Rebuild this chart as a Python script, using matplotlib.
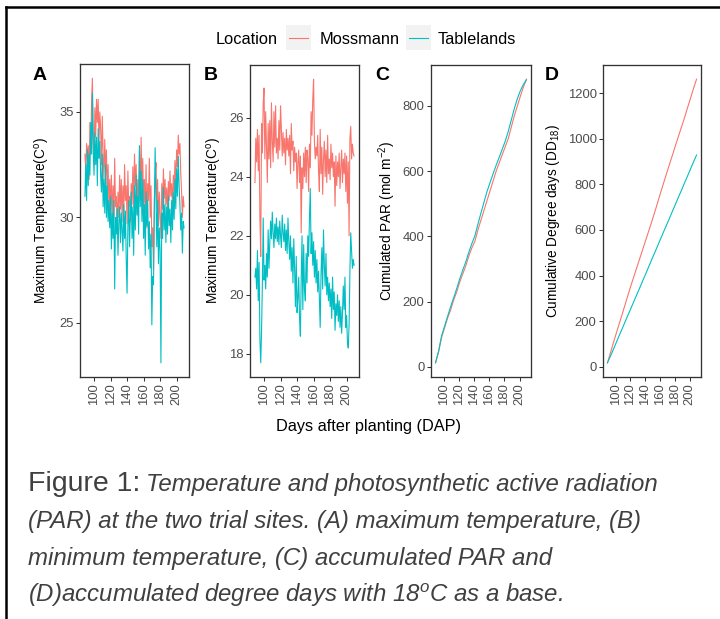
import numpy as np
import matplotlib.pyplot as plt
from matplotlib import font_manager
from matplotlib.lines import Line2D
from matplotlib.patches import Rectangle
from matplotlib.ticker import MultipleLocator

plt.rcParams['font.family'] = ['Liberation Sans', 'DejaVu Sans']
plt.rcParams['mathtext.fontset'] = 'custom'
plt.rcParams['mathtext.rm'] = 'Liberation Sans'
plt.rcParams['mathtext.it'] = 'Liberation Sans:italic'
plt.rcParams['mathtext.bf'] = 'Liberation Sans:bold'
plt.rcParams['mathtext.default'] = 'regular'

# days after planting
dap = np.arange(89, 210)
cum_dap = np.arange(89, 210, 4)

locations = ['Mossmann', 'Tablelands']
colors = ['#F8766D', '#00BFC4']

# (A) maximum temperature
mossmann_max = [
    33.0, 32.2, 33.5, 32.8, 33.4, 31.8, 34.5, 33.0, 35.5, 36.6,
    34.0, 32.5, 35.2, 33.8, 35.6, 34.5, 35.6, 33.5, 35.0, 34.2,
    32.5, 34.8, 33.0, 31.8, 33.7, 32.0, 33.2, 31.2, 32.5, 30.5,
    31.8, 30.2, 32.0, 29.8, 31.5, 30.0, 32.8, 30.5, 31.0, 29.6,
    31.2, 30.0, 32.0, 30.4, 31.8, 29.8, 31.5, 30.2, 32.5, 30.8,
    31.5, 29.7, 32.2, 30.5, 31.0, 29.8, 31.6, 30.6, 32.4, 30.5,
    33.0, 31.5, 32.5, 30.2, 31.8, 30.8, 33.2, 31.0, 33.8, 31.5,
    32.8, 30.5, 31.8, 30.2, 32.5, 29.5, 31.6, 30.8, 32.8, 30.0,
    31.5, 28.6, 29.5, 27.5, 30.8, 31.9, 32.6, 30.4, 31.8, 29.6,
    31.2, 30.0, 29.0, 31.6, 30.4, 32.3, 30.9, 31.8, 30.6, 31.4,
    30.2, 31.7, 30.8, 32.2, 31.0, 31.6, 30.5, 32.0, 31.2, 32.7,
    31.4, 33.2, 32.4, 33.9, 33.0, 33.5, 32.1, 31.2, 30.0, 31.0,
    30.5]
tablelands_max = [
    31.0, 32.5, 30.8, 33.2, 31.5, 33.0, 32.0, 34.5, 33.0, 35.9,
    33.2, 32.0, 34.0, 32.5, 33.8, 31.5, 34.2, 32.8, 33.6, 32.0,
    31.2, 33.0, 30.5, 31.8, 30.2, 32.5, 30.0, 31.5, 29.8, 30.8,
    29.5, 31.0, 28.5, 30.2, 29.0, 30.8, 26.6, 30.0, 29.2, 30.4,
    28.2, 29.8, 30.5, 28.8, 30.2, 29.4, 28.4, 30.6, 29.0, 30.3,
    28.0, 26.4, 29.6, 30.8, 28.6, 30.2, 31.2, 29.0, 30.5, 28.2,
    31.5, 29.4, 32.0, 30.1, 31.0, 29.2, 33.4, 30.5, 32.2, 29.8,
    31.8, 29.0, 30.6, 28.2, 31.2, 29.6, 30.8, 28.5, 29.8, 27.6,
    29.2, 24.9, 27.2, 26.8, 30.2, 33.3, 31.0, 28.6, 30.8, 27.8,
    29.5, 28.4, 23.1, 30.2, 29.0, 31.4, 29.4, 30.6, 28.8, 30.5,
    29.2, 31.0, 29.6, 30.4, 28.8, 30.8, 29.4, 31.2, 29.9, 31.8,
    30.4, 32.3, 31.0, 32.9, 31.5, 30.6, 29.4, 30.2, 28.3, 29.8,
    29.5]

# (B) minimum temperature
mossmann_min = [
    23.8, 25.3, 24.5, 25.6, 24.2, 25.4, 22.6, 21.3, 25.8, 24.8,
    26.5, 27.0, 24.6, 26.2, 25.0, 23.8, 25.8, 24.6, 25.9, 24.3,
    26.5, 25.2, 24.5, 26.2, 25.0, 26.4, 24.8, 25.3, 24.6, 25.9,
    24.9, 26.4, 25.6, 24.7, 25.5, 24.8, 25.3, 24.4, 25.6, 24.9,
    25.3, 24.7, 25.4, 24.1, 25.8, 24.9, 25.2, 24.2, 25.0, 24.5,
    24.8, 23.6, 24.5, 24.9, 23.8, 24.7, 22.1, 24.3, 23.6, 24.8,
    24.0, 25.0, 23.8, 24.9, 24.6, 23.5, 25.1, 24.3, 26.2, 25.4,
    26.6, 27.3, 25.2, 24.6, 25.0, 24.7, 25.4, 24.2, 23.5, 25.6,
    24.1, 25.0, 23.4, 24.6, 25.2, 24.0, 24.9, 23.8, 25.4, 24.1,
    24.6, 23.9, 25.1, 24.3, 24.8, 24.0, 24.5, 23.0, 24.7, 23.7,
    24.5, 24.0, 24.8, 23.6, 24.3, 24.9, 23.8, 24.6, 24.1, 24.8,
    23.5, 24.7, 23.1, 24.5, 22.0, 25.3, 25.7, 24.6, 25.1, 24.8,
    24.7]
tablelands_min = [
    20.6, 20.9, 20.2, 21.5, 19.8, 21.1, 18.5, 17.7, 18.8, 20.4,
    22.6, 20.5, 21.0, 20.2, 21.4, 20.6, 22.2, 20.9, 21.8, 22.5,
    21.9, 22.8, 22.1, 21.6, 22.4, 21.9, 22.6, 21.8, 22.3, 21.7,
    22.5, 22.0, 21.6, 22.7, 22.1, 21.8, 22.4, 21.5, 22.2, 21.4,
    22.6, 21.8, 21.2, 22.0, 20.8, 21.6, 20.4, 21.9, 20.9, 19.6,
    21.3, 19.4, 19.9, 20.6, 19.2, 18.6, 20.5, 22.0, 19.5, 21.7,
    20.2, 19.8, 21.4, 20.4, 22.0, 21.3, 22.6, 23.6, 21.4, 22.1,
    21.0, 21.8, 20.6, 21.5, 20.4, 21.2, 20.1, 20.8, 19.9, 18.9,
    20.7, 21.6, 20.2, 22.2, 21.0, 20.3, 21.4, 20.0, 20.6, 19.8,
    20.4, 19.6, 20.2, 19.2, 20.6, 19.5, 20.1, 18.8, 19.7, 19.3,
    20.0, 19.1, 19.8, 18.9, 19.6, 18.7, 19.4, 20.3, 19.5, 20.6,
    18.9, 19.3, 18.4, 18.2, 19.0, 20.8, 22.1, 21.5, 20.9, 21.2,
    21.0]

# (C) cumulated PAR, every 4 days
mossmann_par = [12, 45, 90, 120, 150, 175, 205, 230, 260, 285, 310, 340, 365, 385, 420, 450,
                480, 510, 540, 570, 600, 625, 650, 675, 700, 735, 770, 800, 830, 858, 882]
tablelands_par = [12, 48, 95, 125, 155, 185, 212, 240, 270, 297, 322, 352, 378, 402, 438, 472,
                  505, 538, 565, 592, 618, 642, 667, 692, 722, 757, 792, 822, 847, 866, 880]

# (D) cumulative degree days (base 18), every 4 days
mossmann_dd = [17, 60, 105, 148, 190, 232, 275, 318, 360, 400, 440, 480, 520, 560, 600, 640,
               682, 725, 768, 810, 852, 893, 933, 975, 1015, 1055, 1095, 1138, 1180, 1222, 1262]
tablelands_dd = [17, 46, 76, 107, 138, 168, 199, 229, 259, 290, 320, 350, 381, 411, 442, 473,
                 503, 534, 564, 595, 625, 655, 686, 716, 747, 777, 808, 838, 869, 899, 929]

W, H = 720, 619
fig = plt.figure(figsize=(W / 100, H / 100), dpi=100)


def fx(x):
    return x / W


def fy(y):
    return 1 - y / H


def add_panel(l, t, r, b):
    return fig.add_axes([fx(l), fy(b), fx(r - l), (b - t) / H])


panels = [
    (add_panel(80, 64, 189, 377), dap, [mossmann_max, tablelands_max], 5, 'A', 33, 'Maximum Temperature(C$^o$)', 43),
    (add_panel(250, 65, 359, 377), dap, [mossmann_min, tablelands_min], 2, 'B', 204, 'Maximum Temperature(C$^o$)', 214),
    (add_panel(431, 65, 531, 377), cum_dap, [mossmann_par, tablelands_par], 200, 'C', 375, 'Cumulated PAR (mol m$^{-2}$)', 387),
    (add_panel(603, 65, 701, 377), cum_dap, [mossmann_dd, tablelands_dd], 200, 'D', 545, 'Cumulative Degree days (DD$_{18}$)', 553),
]

for ax, x, series, ystep, letter, lx, ylab, yl_x in panels:
    for vals, c in zip(series, colors):
        ax.plot(x, vals, color=c, lw=0.8)
    ax.xaxis.set_major_locator(MultipleLocator(20))
    ax.yaxis.set_major_locator(MultipleLocator(ystep))
    for s in ax.spines.values():
        s.set_color('#333333')
        s.set_linewidth(0.95)
    ax.tick_params(length=2.6, width=0.75, color='#333333', labelcolor='#4D4D4D',
                   labelsize=9.4, pad=2)
    ax.tick_params(axis='x', labelrotation=90)
    fig.text(fx(lx), fy(75), letter, fontsize=14, fontweight='bold', va='center', ha='left')
    fig.text(fx(yl_x), fy(221), ylab, fontsize=9.8, rotation=90, ha='center', va='center')

fig.text(fx(368), fy(427), 'Days after planting (DAP)', fontsize=11.7, ha='center', va='center')

# legend
fig.text(fx(216), fy(40), 'Location', fontsize=11.8, va='center')
for kx, tx, name, c in [(286, 320, locations[0], colors[0]), (406, 438, locations[1], colors[1])]:
    fig.add_artist(Rectangle((fx(kx), fy(50)), fx(25), 25 / H, facecolor='#F2F2F2',
                             edgecolor='none', transform=fig.transFigure))
    fig.add_artist(Line2D([fx(kx + 3), fx(kx + 22)], [fy(37.5)] * 2, color=c, lw=0.8,
                          transform=fig.transFigure))
    fig.text(fx(tx), fy(40), name, fontsize=11.8, va='center')

# outer frame (left and top edges)
fig.add_artist(Line2D([fx(5.5), fx(5.5)], [0, fy(7)], color='black', lw=1.8, transform=fig.transFigure))
fig.add_artist(Line2D([fx(5.5), 1], [fy(7), fy(7)], color='black', lw=1.8, transform=fig.transFigure))

# caption
names = {f.name for f in font_manager.fontManager.ttflist}
if 'Liberation Sans Narrow' in names:
    cap_fam, cap_size = ['Liberation Sans Narrow', 'DejaVu Sans'], 20.5
else:
    cap_fam, cap_size = ['Liberation Sans', 'DejaVu Sans'], 17.3
cap_col = '#404040'
t0 = fig.text(fx(28), fy(491), 'Figure 1:', fontsize=20.5, color=cap_col, va='baseline')
fig.canvas.draw()
bb = t0.get_window_extent(fig.canvas.get_renderer())
fig.text((bb.x1 + 6) / W, fy(491), 'Temperature and photosynthetic active radiation',
         fontsize=cap_size, family=cap_fam, style='italic', color=cap_col, va='baseline')
cap_lines = ['(PAR) at the two trial sites. (A) maximum temperature, (B)',
             'minimum temperature, (C) accumulated PAR and',
             '(D)accumulated degree days with 18$^{o}$C as a base.']
for i, line in enumerate(cap_lines):
    fig.text(fx(28), fy(528 + 37 * i), line, fontsize=cap_size, family=cap_fam,
             style='italic', color=cap_col, va='baseline')

fig.savefig('out.png', dpi=100, facecolor='white')
